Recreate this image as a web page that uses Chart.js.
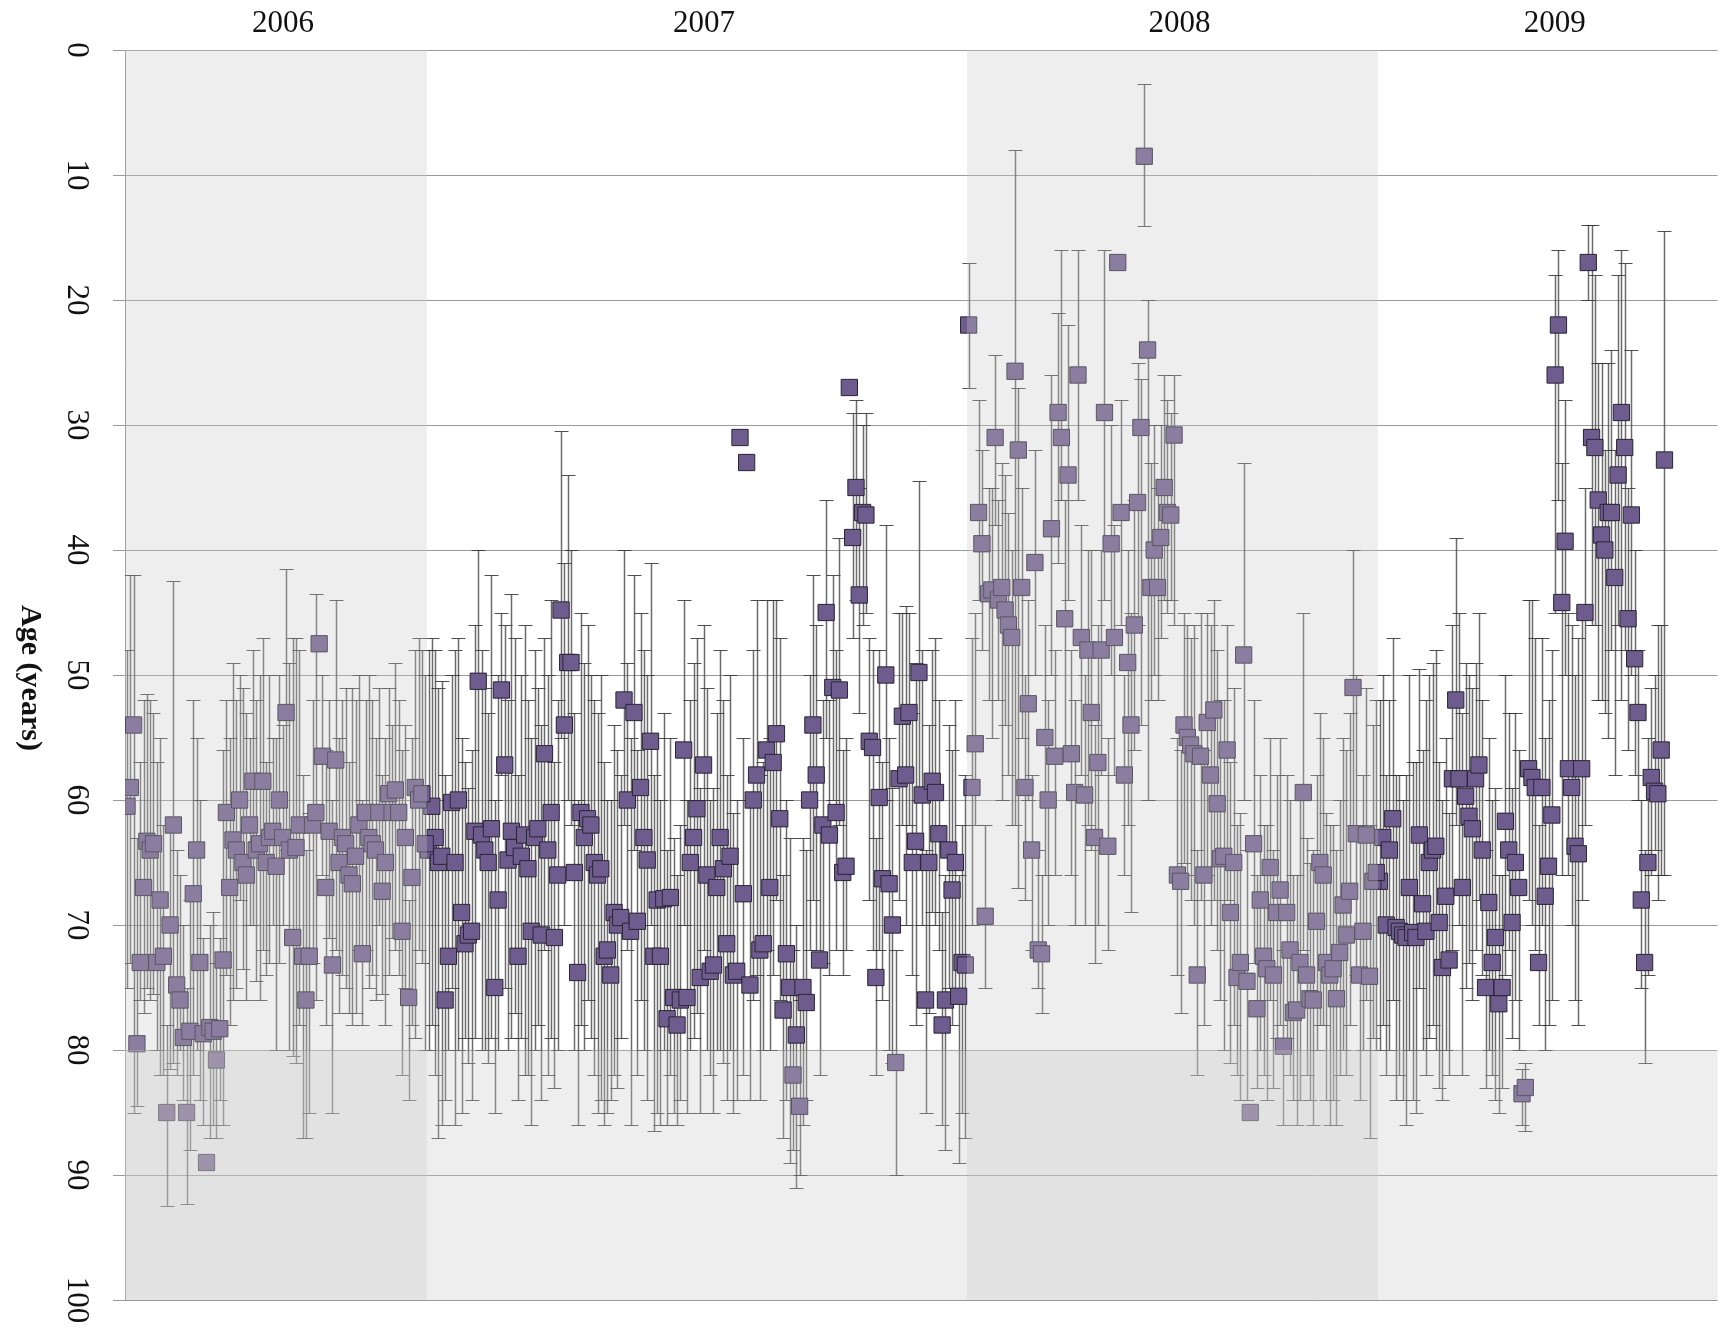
<!DOCTYPE html>
<html>
<head>
<meta charset="utf-8">
<title>Age (years)</title>
<script src="https://cdn.jsdelivr.net/npm/chart.js@4.4.1/dist/chart.umd.min.js"></script>
<style>
    html, body { margin: 0; padding: 0; background: #fff; }
    #wrap { width: 1730px; height: 1328px; position: relative; }
</style>
</head>
<body>
<div id="wrap"><canvas id="ageChart"></canvas></div>
<script>
// each point is [age, lower end of bar, upper end of bar]
var yearLabels = ['2006', '2007', '2008', '2009'];
var shadedYears = ['2006', '2008'];
var ageTicks = [0, 10, 20, 30, 40, 50, 60, 70, 80, 90, 100];
var elderlyBand = [80, 100];

var points2006 = [[60.5,48,75],[59,42,73],[54,42,85],[79.5,63,84.5],[73,57,76],[67,52,77],[63.3,51.5,75],[64,52,76],[63.5,53,75.5],[73,57,80],[68,55,82],[72.5,62,82],[85,78,92.5],[70,62,81.5],[62,42.5,81],[74.8,64,82],[76,66,80],[79,70,84],[85,75,92.3],[78.5,68,88],[67.5,52,82],[64,55,80],[73,60,84],[78.7,71,86],[89,89,89],[78.2,70,87],[78.5,69,86],[80.8,73,87],[78.3,71,84],[72.8,56,86],[61,52,74],[67,55,78],[63.2,49,76],[64,52,75],[60,50,68],[65,51,73.5],[66,53,76],[62,55,70],[58.5,48,70],[64,52,74.5],[63.5,50,76],[58.5,47,72],[65,57,74],[63,50,73],[62.5,55,70],[65.3,55,80],[60,50,73],[63,54,70],[53,41.5,64],[64,49,80],[71,47,80.5],[63.8,47,81],[62,48,78],[72.5,58,87],[76,64,87],[72.5,61,85],[62,52,73],[61,43.5,76],[47.5,47.5,47.5],[56.5,50,66],[67,56,78],[62.5,52,71],[73.2,60,85],[56.8,44,72],[65,55,77],[63,52,74],[63.5,51,75],[66,57,77],[66.7,51,78],[64.5,52,77],[62,50,72],[72.3,60,78],[61,52,72],[63,50,75],[63.5,52,74],[64,55,76],[61,51,70],[67.3,58,75.5],[65,55,78],[59.5,51,74],[61,54,71],[59.2,49,72],[61,52,74],[70.5,56,82],[63,54,75],[75.8,68,84],[66.2,55,78],[59,48,79],[60,47,72],[59.5,48,73],[63.5,50,80]];

var points2007 = [[64,48,80],[60.5,47,78],[63,48,82],[65,51,87],[64.5,50.5,86],[76,58,84],[72.5,60,80],[60.2,50,75],[65,48,86],[60,47,80],[69,55,85],[71.5,57,79],[70.8,59,81],[70.5,56,84],[62.5,46,79],[50.5,40,62],[62.8,48,80],[64,51,80],[65,53,81],[62.3,42,79],[75,60,85],[68,50,80],[51.2,45,58],[57.2,46,75],[64.8,52,80],[62.5,43.5,79],[63.8,47,77],[72.5,58,84],[64.5,50,79],[62.8,46,82],[65.5,52,82],[70.5,55,86],[63,48,80],[62.3,51,78],[70.8,54,84],[56.3,47,72],[64,50,82],[61,44,79],[71,57,83],[66,52,80],[44.8,30.5,55],[54,41,70],[49,34,60],[49,40,62],[65.8,53,80],[73.8,60,86],[61,45,78],[63,49,80],[61.5,46,76],[62,50,79],[65,52,82],[66,53,85],[65.5,50,84],[72.5,57,86],[72,60,85],[74,60,84],[69,54,82],[70,56,83],[69.4,58,79],[52,40,62],[60,49,72],[70.5,55,86],[53,42,64],[69.7,56,82],[59,45,76],[63,48,80],[64.8,50,84],[55.3,41,70],[72.5,58,86.5],[68,55,85],[72.5,60,86],[67.9,53,80],[77.5,64,86],[67.8,55,82],[75.8,63,85],[78,66,86],[76,62,84],[56,44,70],[75.8,60,85],[65,52,80],[63,49,79],[60.7,47,77],[74.2,59,85],[57.2,46,72],[66,51,80],[73.7,60,82],[73.2,59,85],[67,53,80],[63,48,80],[65.5,52,81],[71.5,58,84],[64.5,50,80],[74,61,85],[73.7,60,84],[31,31,31],[67.5,55,82],[33,33,33],[74.8,60,84],[60,48,76],[58,44,74],[72,58,84],[71.5,57,80],[56,44,72],[67,55,80],[57,44,74],[54.7,44,68],[61.5,47,76],[76.8,66,87],[72.3,60,84],[75,63,89],[82,72,88],[78.8,70,91],[84.5,76,90],[75,63,86],[76.2,64,84],[60,50,72],[54,42,68],[58,46,72],[72.8,62,82],[62,52,73],[45,36,55],[62.8,52,74],[51,42,60],[61,48,72],[51.2,39,62],[65.8,56,74],[65.3,55,72],[27,27,27],[39,29,47],[35,28,44],[43.6,35,53],[37,30,46],[37.2,29,45],[55.3,47,68],[55.8,48,72],[74.2,63,82],[59.8,48,72],[66.3,57,76],[50,38,60],[66.7,55,80],[70,59,81],[81,72,90],[58.3,45,68],[53.3,45,62],[58,44.5,70],[53,45,62],[65,53,74],[63.3,49,78],[49.8,34.5,60],[59.6,48,70],[76,64,85],[65,54,77],[58.5,48,69],[59.4,47,70],[62.7,52,72],[78,69,86],[76,66,88],[64,54,75],[67.2,56,78],[65,52,75],[75.7,66,89],[73,62,85],[73.2,58,87]];

var points2008 = [[22,17,27],[59,47,70],[55.5,45,62],[37,28,44],[39.5,32,48],[69.3,62,75],[43.5,35,52],[43.2,35,55],[31,24.4,38],[44,36,52],[43,33,60],[44.8,34,54],[46,37,58],[47,40,62],[25.7,8,62],[32,27,67],[43,35,55],[59,50,68],[52.3,44,60],[64,58,72],[41,32,50],[72,64,75],[72.3,66,77],[55,46,66],[60,52,70],[38.3,26,50],[56.5,48,66],[29,21,41],[31,16,36],[45.5,36,56],[34,22,44],[56.3,48,66],[59.4,52,70],[26,16,36],[47,38,58],[59.6,50,70],[48,40,62],[53,40,64],[63,54,73],[57,46,70],[48,40,58],[29,16,44],[63.7,55,72],[39.5,30,50],[47,38,58],[17,17,17],[37,28,46],[58,50,66],[49,40,62],[54,45,69],[46,36,56],[36.2,25,46],[30.2,26.3,54],[8.5,2.7,14.1],[24,20,60],[43,33,52],[40,30,50],[43,35,52],[39,30,47],[35,26,44],[37,28,45],[37.2,29,44],[30.8,26,46],[66,55,74],[66.5,56,77],[54,45,65],[55,46,66],[55.6,47,68],[56.3,46,70],[74,64,82],[56.5,45,68],[66,56,78],[53.8,45,66],[58,46,70],[52.8,44,68],[60.3,48,72],[64.7,52,76],[64.5,52,80],[56,46,68],[69,57,81],[65,51,78],[74.2,62,82],[73,61,84],[48.4,33,60],[74.5,64,84],[85,85,85],[63.5,52,73],[76.7,66,83],[68,58,80],[72.5,62,82],[73.5,62,84],[65.4,55,76],[74,64,83],[69,58,79],[67.2,55,78],[79.7,72,86],[69,58,79],[72,60,82],[77,66,84],[76.8,66,86],[73,60,84],[59.4,45,72],[74,63,82],[75.9,65,84],[76,64,86],[69.7,58,80],[65,53,78],[66,55,78],[73,61,84],[74,62,86],[73.5,62,84],[75.9,64,86],[72.2,60,82],[68.4,55,80],[70.8,56,82],[67.3,53,78],[51,40,62],[62.7,50,74],[74,62,84],[70.5,58,80],[62.8,51,76],[74.1,62,87],[66.5,54,79],[65.8,52,80]];

var points2009 = [[66.5,52,80],[63,50,78],[70,58,82],[64,52,80],[61.5,47,76],[70.2,58,84],[70.5,58,82],[70.8,60,84],[71,58,86],[67,50,80],[70.6,57,84],[71,57,85],[62.8,49.5,75],[68.3,56,80],[70.5,52,82],[65,50,79],[64,49,78],[63.7,48,80],[69.8,57,83],[73.4,60,84],[67.7,55,80],[72.8,61,82],[58.3,46,72],[52,39,62],[58.3,45,70],[67,53,82],[59.7,49,75],[61.3,50,73],[62.3,51,76],[58.3,49,72],[57.2,45,68],[64,52,74],[75,64,83],[68.2,55,80],[73,60,82],[71,59,84],[76.3,66,85],[75,66,83],[61.7,50,74],[64,53,72],[69.8,59,79],[65,53,76],[67,56,80],[83.5,81.5,86],[83,81,86.5],[57.5,44,68],[58.2,44,70],[59,47,72],[73,62,78],[59,47,70],[67.7,55,80],[65.3,52,78],[61.2,48,76],[26,18,45],[22,16,36],[44.2,33,66],[39.3,28,50],[57.5,45,66],[59,46,70],[63.7,50,76],[64.3,47,78],[57.5,45,68],[45,35,62],[17,14,20],[31,14,46],[31.8,18,46],[36,25,52],[38.8,25,52],[40,32,53],[37,25,55],[37,24,48],[42.2,32,58],[34,18,46],[29,16,52],[31.8,17,48],[45.5,35,56],[37.2,24,50],[48.7,40,58],[53,48,60],[68,60,75],[73,64,81],[65,55,74],[58.2,51,66],[59.3,50,64],[59.5,46,68],[56,46,66],[32.8,14.5,66]];

var yearPoints = [points2006, points2007, points2008, points2009];

var chartObject = null;
var yearRanges = [];
var datasets = [];
var offset = 0;

yearPoints.forEach(function (pts, k) {
    var data = pts.map(function (p, i) {
        return { x: offset + i, y: p[0], lo: p[1], hi: p[2] };
    });
    yearRanges.push({ label: yearLabels[k], from: offset - 0.5, to: offset + pts.length - 0.5 });
    offset += pts.length;
    datasets.push({
        label: yearLabels[k],
        data: data,
        pointStyle: 'rect',
        pointRadius: 11.5,
        pointHoverRadius: 11.5,
        backgroundColor: '#6e5c8e',
        borderColor: '#2a2435',
        borderWidth: 1
    });
});

var xMin = -0.6;
var xMax = offset - 1 + 16;
yearRanges[yearRanges.length - 1].to = xMax;

// error bars go under the squares
var errorBarPlugin = {
    id: 'errorBars',
    beforeDatasetsDraw: function (chart) {
        var ctx = chart.ctx;
        var area = chart.chartArea;
        var yScale = chart.scales.y;
        ctx.save();
        ctx.beginPath();
        ctx.rect(area.left, area.top, area.right - area.left, area.bottom - area.top);
        ctx.clip();
        chart.data.datasets.forEach(function (ds, di) {
            var meta = chart.getDatasetMeta(di);
            meta.data.forEach(function (el, i) {
                var raw = ds.data[i];
                if (raw.hi - raw.lo <= 0) return;
                var x = Math.round(el.x) + 0.5;
                var y1 = Math.round(yScale.getPixelForValue(raw.lo)) + 0.5;
                var y2 = Math.round(yScale.getPixelForValue(raw.hi)) + 0.5;
                ctx.strokeStyle = 'rgba(70,70,70,0.8)';
                ctx.lineWidth = 1.5;
                ctx.beginPath();
                ctx.moveTo(x, y1);
                ctx.lineTo(x, y2);
                ctx.stroke();
                ctx.strokeStyle = 'rgba(50,50,50,0.85)';
                ctx.lineWidth = 1;
                ctx.beginPath();
                ctx.moveTo(x - 7, y1);
                ctx.lineTo(x + 7, y1);
                ctx.moveTo(x - 7, y2);
                ctx.lineTo(x + 7, y2);
                ctx.stroke();
            });
        });
        ctx.restore();
    }
};

// grey bands are laid over the marks, so points inside look paler
var bandPlugin = {
    id: 'bands',
    afterDatasetsDraw: function (chart) {
        var ctx = chart.ctx;
        var area = chart.chartArea;
        var xScale = chart.scales.x;
        var yScale = chart.scales.y;
        ctx.save();
        ctx.fillStyle = 'rgba(200,200,200,0.31)';
        yearRanges.forEach(function (r) {
            if (shadedYears.indexOf(r.label) < 0) return;
            var x1 = Math.max(area.left, xScale.getPixelForValue(r.from));
            var x2 = Math.min(area.right, xScale.getPixelForValue(r.to));
            ctx.fillRect(x1, area.top, x2 - x1, area.bottom - area.top);
        });
        var b1 = yScale.getPixelForValue(elderlyBand[0]);
        var b2 = yScale.getPixelForValue(elderlyBand[1]);
        ctx.fillRect(area.left, b1, area.right - area.left, b2 - b1);
        ctx.restore();
    }
};

var labelPlugin = {
    id: 'labels',
    afterDraw: function (chart) {
        var ctx = chart.ctx;
        var xScale = chart.scales.x;
        var yScale = chart.scales.y;
        ctx.save();
        ctx.fillStyle = '#111';
        ctx.font = '31px "Liberation Serif", "Times New Roman", serif';
        ctx.textAlign = 'center';
        ctx.textBaseline = 'middle';
        yearRanges.forEach(function (r) {
            var cx = (xScale.getPixelForValue(r.from) + xScale.getPixelForValue(r.to)) / 2 + 7;
            ctx.fillText(r.label, cx, 24);
        });
        ageTicks.forEach(function (v) {
            ctx.save();
            ctx.translate(76, yScale.getPixelForValue(v));
            ctx.rotate(Math.PI / 2);
            ctx.fillText(String(v), 0, 0);
            ctx.restore();
        });
        ctx.save();
        ctx.translate(30, 678);
        ctx.rotate(Math.PI / 2);
        ctx.font = 'bold 30px "Liberation Serif", "Times New Roman", serif';
        ctx.fillText('Age (years)', 0, 0);
        ctx.restore();
        ctx.restore();
    }
};

chartObject = new Chart(document.getElementById('ageChart').getContext('2d'), {
    type: 'scatter',
    data: { datasets: datasets },
    options: {
        responsive: true,
        maintainAspectRatio: false,
        animation: false,
        layout: { padding: { left: 113, top: 50, right: 0, bottom: 28 } },
        plugins: {
            legend: { display: false },
            tooltip: { enabled: false }
        },
        scales: {
            x: {
                type: 'linear',
                display: false,
                min: xMin,
                max: xMax
            },
            y: {
                type: 'linear',
                reverse: true,
                min: 0,
                max: 100,
                ticks: { display: false, stepSize: 10 },
                grid: { color: '#9a9a9a', lineWidth: 1, tickLength: 12, drawTicks: true },
                border: { color: '#9a9a9a' }
            }
        }
    },
    plugins: [errorBarPlugin, bandPlugin, labelPlugin]
});
</script>
</body>
</html>
